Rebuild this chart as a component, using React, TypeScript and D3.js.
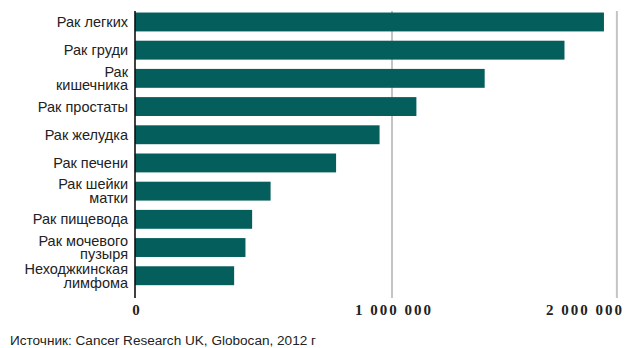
import React from "react";
import * as d3 from "d3";

const categories: string[][] = [
  ["Рак легких"],
  ["Рак груди"],
  ["Рак", "кишечника"],
  ["Рак простаты"],
  ["Рак желудка"],
  ["Рак печени"],
  ["Рак шейки", "матки"],
  ["Рак пищевода"],
  ["Рак мочевого", "пузыря"],
  ["Неходжкинская", "лимфома"],
];
const values: number[] = [
  1824701, 1671149, 1360602, 1094916, 951594, 782451, 527624, 455784, 429793, 385741,
];
const tickValues: number[] = [0, 1000000, 1875000];
const tickLabels: string[] = ["0", "1 000 000", "2 000 000"];
const source = "Источник: Cancer Research UK, Globocan, 2012 г";

const W = 625;
const H = 348;

export default function App() {
  const x = d3.scaleLinear().domain([0, 1000000]).range([135, 392]);
  const y = d3
    .scaleBand<number>()
    .domain(d3.range(categories.length))
    .range([8.3, 289.4])
    .paddingInner(0.33)
    .paddingOuter(0.15);
  const top = 11;
  const bottom = 298;
  return (
    <svg
      width={W}
      height={H}
      style={{ position: "absolute", left: 0, top: 0, background: "#fff" }}
    >
      {tickValues.slice(1).map((t, i) => (
        <line
          key={"g" + i}
          x1={x(t)}
          x2={x(t)}
          y1={top}
          y2={bottom}
          stroke="#c4c4c4"
          strokeWidth={2}
        />
      ))}
      {values.map((v, i) => (
        <rect
          key={"b" + i}
          x={x(0)}
          y={y(i)}
          width={x(v) - x(0)}
          height={y.bandwidth()}
          fill="#045e5b"
        />
      ))}
      <line x1={x(0)} x2={x(0)} y1={top} y2={bottom} stroke="#111" strokeWidth={1.6} />
      {categories.map((lines, i) => {
        const cy = (y(i) as number) + y.bandwidth() / 2;
        const lh = 13.5;
        const start = cy - ((lines.length - 1) * lh) / 2;
        return (
          <text
            key={"c" + i}
            x={128}
            textAnchor="end"
            fontFamily="Liberation Sans, Arial, sans-serif"
            fontSize={14.5}
            fill="#222"
          >
            {lines.map((l, j) => (
              <tspan key={j} x={128} y={start + j * lh} dy="0.35em">
                {l}
              </tspan>
            ))}
          </text>
        );
      })}
      {tickValues.map((t, i) => {
        const isLast = i === tickValues.length - 1;
        const px = x(t);
        const label = tickLabels[i];
        return (
          <text
            key={"t" + i}
            x={isLast ? 622 : px + 1}
            y={315}
            textAnchor={isLast ? "end" : "middle"}
            fontFamily="Liberation Serif, Times New Roman, serif"
            fontWeight="bold"
            fontSize={15}
            fill="#222"
            textLength={label.length > 1 ? 76 : undefined}
            lengthAdjust="spacing"
          >
            {label}
          </text>
        );
      })}
      <text
        x={10}
        y={345}
        fontFamily="Liberation Sans, Arial, sans-serif"
        fontSize={12.5}
        fill="#222"
        textLength={306}
        lengthAdjust="spacingAndGlyphs"
      >
        {source}
      </text>
    </svg>
  );
}
